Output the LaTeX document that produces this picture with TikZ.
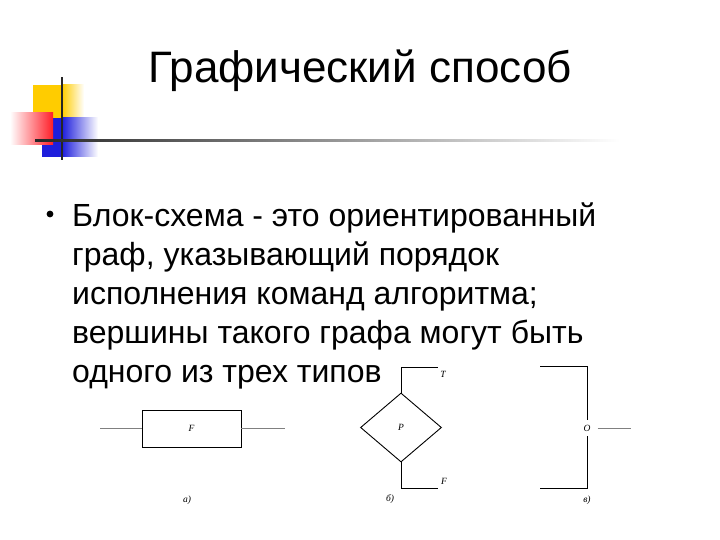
\documentclass[tikz,border=0pt]{standalone}
\usepackage{fontspec}
\setmainfont{Liberation Sans}
\newfontfamily\lblfont{Liberation Serif}
\usetikzlibrary{shapes.geometric}
\definecolor{logoyellow}{RGB}{255,204,0}
\definecolor{logoblue}{RGB}{30,30,220}
\definecolor{logored}{RGB}{255,30,40}
\tikzset{
  titletext/.style={anchor=base,inner sep=0pt,font=\fontsize{44}{50}\selectfont},
  bodytext/.style={anchor=base west,inner sep=0pt,font=\fontsize{32}{38}\selectfont},
  flowline/.style={line width=0.9pt,black},
  leadline/.style={line width=1pt,black!50},
  smalllbl/.style={inner sep=0pt,font=\lblfont\itshape\fontsize{9.5}{10}\selectfont},
  procbox/.style={draw,line width=0.9pt,minimum width=99pt,minimum height=37pt,inner sep=0pt,font=\lblfont\itshape\fontsize{9.5}{10}\selectfont},
  decbox/.style={draw,diamond,line width=0.9pt,minimum width=81pt,minimum height=69pt,inner sep=0pt,font=\lblfont\itshape\fontsize{9.5}{10}\selectfont},
}
\begin{document}
\begin{tikzpicture}[x=1pt,y=-1pt]
\useasboundingbox (0,0) rectangle (720,540);
% logo
\fill[logoyellow] (33,85) rectangle (62,119);
\shade[left color=logoyellow,right color=white] (62,85) rectangle (84,119);
\fill[logoblue] (42,118) rectangle (62,157);
\shade[left color=logoblue,right color=white] (62,118) rectangle (98,157);
\shade[left color=white,right color=logored] (10,113) rectangle (53,145);
\fill[black!85] (61,77) rectangle (62.5,160);
% rule
\shade[left color=black!85,middle color=black!65,right color=white] (35,139.5) rectangle (620,142);
% title
\node[titletext] (title) at (360,83) {Графический способ};
% body
\fill (50,214) circle (3.4);
\node[bodytext] (l1) at (72,226) {Блок-схема - это ориентированный};
\node[bodytext] (l2) at (72,265) {граф, указывающий порядок};
\node[bodytext] (l3) at (72,304) {исполнения команд алгоритма;};
\node[bodytext] (l4) at (72,343) {вершины такого графа могут быть};
\node[bodytext] (l5) at (72,382) {одного из трех типов};
% a) process
\node[procbox] (proc) at (191.5,428.5) {F};
\coordinate (pin) at (100,428.5);
\coordinate (pout) at (285,428.5);
\draw[leadline] (pin) -- (proc.west);
\draw[leadline] (proc.east) -- (pout);
\node[smalllbl] (la) at (187,500) {а)};
% b) decision
\node[decbox] (dec) at (401,427.5) {P};
\coordinate (tEnd) at (438,367);
\coordinate (fEnd) at (438,488);
\draw[flowline] (dec.north) |- (tEnd);
\draw[flowline] (dec.south) |- (fEnd);
\node[smalllbl] (lt) at (443,374) {T};
\node[smalllbl] (lf) at (444,481) {F};
\node[smalllbl] (lb) at (390,499) {б)};
% c) connector
\node[smalllbl,minimum size=15pt] (con) at (587,428) {O};
\coordinate (cTop) at (540,366);
\coordinate (cBot) at (540,488);
\coordinate (cOut) at (631,428);
\draw[flowline] (cTop) -| (con.north);
\draw[flowline] (cBot) -| (con.south);
\draw[leadline] (con.east) ++(3,0) -- (cOut);
\node[smalllbl] (lc) at (587,500) {в)};
\end{tikzpicture}
\end{document}
